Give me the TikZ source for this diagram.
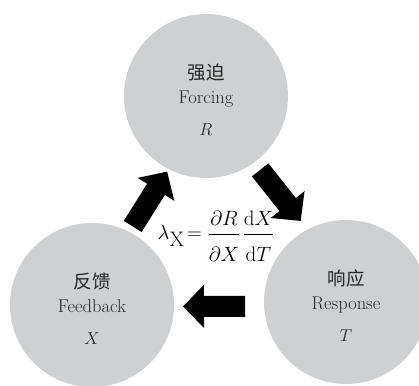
\documentclass[tikz,border=0pt]{standalone}
\usepackage{amsmath,amssymb}
\usepackage{fontspec}
\newfontfamily\cjk{Noto Sans CJK SC}
\usetikzlibrary{arrows.meta}
\definecolor{discgray}{RGB}{207,208,210}

\begin{document}
\begin{tikzpicture}[
 x=1pt,y=-1pt,
 disc/.style={circle,fill=discgray,text=black!85,minimum size=164pt,inner sep=0pt,outer sep=0pt,align=center,font=\fontsize{18.5}{27}\selectfont},
 bigflow/.style={line width=21pt,-{Triangle[length=21pt,width=42pt]},black}]
\useasboundingbox (0,0) rectangle (419,385);
\clip (0,0) rectangle (419,385);
\node[disc] (forcing) at (206,96) {\rule{0pt}{22pt}{\cjk 强迫}\\[-3pt]Forcing\\[5pt]$R$};
\node[disc] (response) at (346,302) {\rule{0pt}{22pt}{\cjk 响应}\\[-3pt]Response\\[5pt]$T$};
\node[disc] (feedback) at (92,305) {\rule{0pt}{22pt}{\cjk 反馈}\\[-3pt]Feedback\\[5pt]$X$};
\node[font=\fontsize{21}{24}\selectfont,inner sep=0pt] (lambda) at (216,236)
 {$\displaystyle \lambda_{\textstyle\mathrm{X}}\!=\frac{\partial R}{\rule{0pt}{24pt}\partial X}\mkern2mu\frac{\mathrm{d}X}{\rule{0pt}{24pt}\mathrm{d}T}$};
\draw[bigflow,shorten <=6.5pt,shorten >=3pt] (feedback.63)--(forcing.243);
\draw[bigflow,shorten <=9.6pt,shorten >=11pt] (forcing.-54)--(response.118);
\draw[bigflow,shorten <=19pt,shorten >=9pt] (response.183)--(feedback.-1);
\end{tikzpicture}
\end{document}
